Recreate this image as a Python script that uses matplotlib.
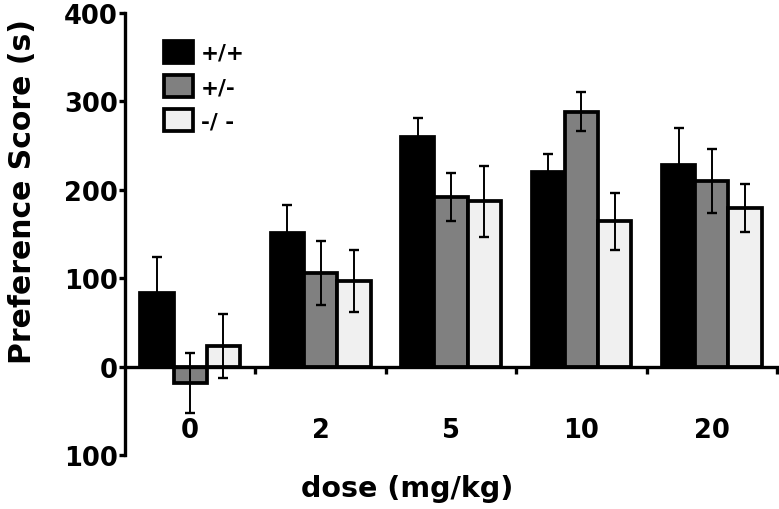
import matplotlib.pyplot as plt
import numpy as np

plt.rcParams['font.family'] = ['DejaVu Sans']
plt.rcParams['font.weight'] = 'bold'

# doses (mg/kg) and genotypes
doses = ['0', '2', '5', '10', '20']
genotypes = ['+/+', '+/-', '-/ -']
colors = ['#000000', '#808080', '#f0f0f0']

# preference score (s), mean and error per genotype
wt_mean = [83, 151, 260, 220, 228]
wt_err = [41, 32, 21, 20, 42]
het_mean = [-19, 106, 192, 288, 210]
het_err = [34, 36, 27, 22, 36]
ko_mean = [23, 97, 187, 164, 179]
ko_err = [36, 35, 40, 32, 27]

means = [wt_mean, het_mean, ko_mean]
errs = [wt_err, het_err, ko_err]

fig = plt.figure(figsize=(7.79, 5.10), dpi=100)
ax = fig.add_axes([0.1605, 0.106, 0.837, 0.867])

x = np.arange(len(doses)) + 0.5
width = 0.255
offsets = [-width, 0, width]

bars = []
for i in range(3):
    b = ax.bar(x + offsets[i], means[i], width, color=colors[i],
               edgecolor='black', linewidth=2.7, label=genotypes[i], zorder=2)
    ax.errorbar(x + offsets[i], means[i], yerr=errs[i], fmt='none',
                ecolor='black', elinewidth=1.4, capsize=3.5, capthick=1.7, zorder=3)
    bars.append(b)

ax.set_xlim(0, len(doses))
ax.set_ylim(-100, 400)

# axes styling
ax.spines['top'].set_visible(False)
ax.spines['right'].set_visible(False)
ax.spines['bottom'].set_position(('data', 0))
ax.spines['left'].set_linewidth(2.4)
ax.spines['bottom'].set_linewidth(2.4)
ax.spines['bottom'].set_zorder(4)

ax.set_yticks([-100, 0, 100, 200, 300, 400])
ax.set_yticklabels(['100', '0', '100', '200', '300', '400'])
ax.tick_params(axis='y', direction='out', length=4, width=2.4, labelsize=18.5, pad=1)

ax.set_xticks(x)
ax.set_xticklabels(doses)
ax.set_xticks(np.arange(1, len(doses) + 1), minor=True)
ax.tick_params(axis='x', which='major', length=0, labelsize=18.5, pad=36)
ax.tick_params(axis='x', which='minor', direction='out', length=5, width=2.4)

ax.set_ylabel('Preference Score (s)', fontsize=21.5, fontweight='bold')
ax.yaxis.set_label_coords(-0.135, 0.597)
ax.set_xlabel('dose (mg/kg)', fontsize=20.5, fontweight='bold')
ax.xaxis.set_label_coords(0.433, -0.043)

ax.legend(handles=bars, loc='upper left', bbox_to_anchor=(0.06, 0.937),
          frameon=False, fontsize=15.5, handlelength=1.35, handleheight=1.2,
          handletextpad=0.35, labelspacing=0.55, borderaxespad=0, borderpad=0)

plt.savefig('out.png', dpi=100)
